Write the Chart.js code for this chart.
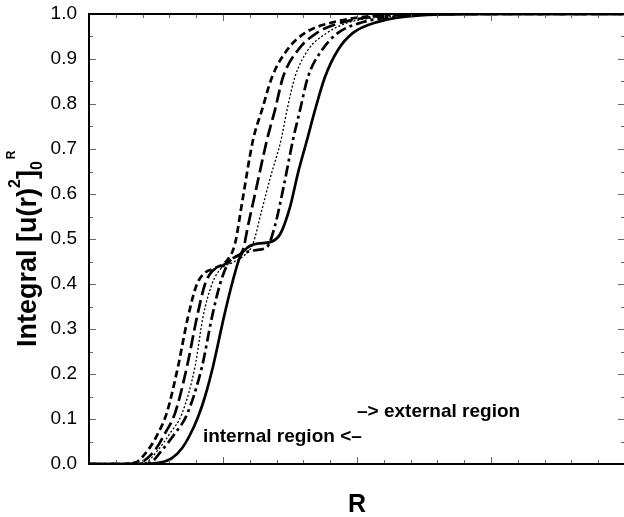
<!DOCTYPE html>
<html>
<head>
<meta charset="utf-8">
<script src="https://cdn.jsdelivr.net/npm/chart.js@4"></script>
<style>
  html, body { margin: 0; padding: 0; overflow: hidden; background: #fff; }
  #wrap { position: relative; width: 627px; height: 517px; }
</style>
</head>
<body>
<div id="wrap"><canvas id="chart"></canvas></div>
<script>
/* ── Data (R on x, cumulative integral on y) ── */
const shortDashR = [0, 0.231, 0.343, 0.440, 0.515, 0.582, 0.664, 0.739, 0.806, 0.866, 0.940, 1.037, 1.090, 1.142, 1.224, 1.291, 1.366, 1.478, 1.612, 1.799, 2.097, 2.545, 4];
const shortDashY = [0, 0, 0.003, 0.031, 0.068, 0.115, 0.216, 0.327, 0.40, 0.425, 0.435, 0.455, 0.49, 0.58, 0.72, 0.787, 0.86, 0.92, 0.958, 0.98, 0.995, 1.0, 1.0];

const longDashR = [0, 0.269, 0.381, 0.493, 0.567, 0.642, 0.731, 0.806, 0.866, 0.918, 0.993, 1.090, 1.149, 1.187, 1.239, 1.328, 1.388, 1.448, 1.560, 1.701, 1.873, 2.172, 2.694, 4];
const longDashY = [0, 0, 0.003, 0.031, 0.068, 0.113, 0.216, 0.327, 0.40, 0.428, 0.44, 0.46, 0.476, 0.53, 0.60, 0.72, 0.787, 0.86, 0.92, 0.958, 0.98, 0.995, 1.0, 1.0];

const dottedR = [0, 0.306, 0.418, 0.515, 0.604, 0.694, 0.791, 0.851, 0.918, 0.978, 1.067, 1.164, 1.224, 1.291, 1.351, 1.433, 1.478, 1.537, 1.634, 1.776, 1.925, 2.246, 2.769, 4];
const dottedY = [0, 0, 0.003, 0.031, 0.068, 0.112, 0.216, 0.327, 0.40, 0.432, 0.447, 0.465, 0.49, 0.566, 0.634, 0.72, 0.787, 0.86, 0.92, 0.958, 0.98, 0.995, 1.0, 1.0];

const dashDotR = [0, 0.343, 0.455, 0.545, 0.642, 0.731, 0.843, 0.918, 0.978, 1.037, 1.127, 1.239, 1.328, 1.388, 1.455, 1.522, 1.575, 1.634, 1.739, 1.858, 2.022, 2.321, 2.843, 4];
const dashDotY = [0, 0, 0.003, 0.031, 0.068, 0.11, 0.216, 0.327, 0.40, 0.445, 0.465, 0.475, 0.482, 0.53, 0.62, 0.72, 0.787, 0.86, 0.92, 0.958, 0.98, 0.995, 1.0, 1.0];

const solidR = [0, 0.381, 0.530, 0.619, 0.694, 0.754, 0.813, 0.866, 0.925, 1.007, 1.067, 1.127, 1.187, 1.261, 1.351, 1.425, 1.500, 1.560, 1.627, 1.687, 1.761, 1.858, 1.970, 2.149, 2.470, 3.067, 4];
const solidY = [0, 0, 0.003, 0.013, 0.035, 0.065, 0.104, 0.15, 0.216, 0.327, 0.40, 0.46, 0.482, 0.49, 0.493, 0.51, 0.571, 0.647, 0.72, 0.787, 0.86, 0.92, 0.958, 0.982, 0.997, 1.0, 1.0];

/* axis ranges */
const rMin = 0, rMax = 4, rMinorStep = 0.2, rMajorStep = 1;
const yMin = 0, yMax = 1, yMinorStep = 0.05, yMajorStep = 0.1;

/* text notes, placed in data units */
const noteTexts = ['internal region <\u2013', '\u2013> external region'];
const noteR     = [0.85, 2.0];
const noteY     = [0.06, 0.1156];

const FONT = '"Liberation Sans", Arial, Helvetica, sans-serif';

function pts(xs, ys) { return xs.map((x, i) => ({ x, y: ys[i] })); }

/* ── Plugins ── */
const frameTicks = {
  id: 'frameTicks',
  afterDatasetsDraw(chart) {
    const { ctx, chartArea: a, scales: { x, y } } = chart;
    ctx.save();
    ctx.strokeStyle = '#666';
    ctx.lineWidth = 1;
    ctx.beginPath();
    for (let v = rMin; v <= rMax + 1e-9; v += rMinorStep) {
      const px = Math.round(x.getPixelForValue(v)) + 0.5;
      const major = Math.abs(v / rMajorStep - Math.round(v / rMajorStep)) < 1e-6;
      const len = major ? 7 : 4;
      ctx.moveTo(px, a.bottom); ctx.lineTo(px, a.bottom - len);
      ctx.moveTo(px, a.top);    ctx.lineTo(px, a.top + len);
    }
    for (let v = yMin; v <= yMax + 1e-9; v += yMinorStep) {
      const py = Math.round(y.getPixelForValue(v)) + 0.5;
      const major = Math.abs(v / yMajorStep - Math.round(v / yMajorStep)) < 1e-6;
      const len = major ? 7 : 4;
      ctx.moveTo(a.left, py);  ctx.lineTo(a.left + len, py);
      ctx.moveTo(a.right, py); ctx.lineTo(a.right - len, py);
    }
    ctx.stroke();

    ctx.strokeStyle = '#000';
    ctx.lineWidth = 2;
    ctx.strokeRect(a.left, a.top, a.width, a.height);

    // notes
    ctx.fillStyle = '#000';
    ctx.font = 'bold 19px ' + FONT;
    ctx.textBaseline = 'middle';
    ctx.textAlign = 'left';
    noteTexts.forEach((t, i) => {
      ctx.fillText(t, x.getPixelForValue(noteR[i]), y.getPixelForValue(noteY[i]));
    });
    ctx.restore();
  },
};

const yTitle = {
  id: 'yTitle',
  afterDraw(chart) {
    const { ctx } = chart;
    ctx.save();
    ctx.translate(36, 347);
    ctx.rotate(-Math.PI / 2);
    ctx.fillStyle = '#000';
    ctx.textBaseline = 'alphabetic';
    ctx.textAlign = 'left';
    let cx = 0;
    const part = (txt, size, dy) => {
      ctx.font = 'bold ' + size + 'px ' + FONT;
      ctx.fillText(txt, cx, dy);
      cx += ctx.measureText(txt).width;
    };
    part('Integral [u(r)', 27, 0);
    part('2', 16, -16);
    part(']', 27, 0);
    part('0', 16, 6);
    cx += 2;
    part('R', 12, -21);
    ctx.restore();
  },
};

/* ── Chart ── */
new Chart(document.getElementById('chart'), {
  type: 'line',
  data: {
    datasets: [
      { data: pts(shortDashR, shortDashY), borderDash: [7, 4],        borderWidth: 2.7 },
      { data: pts(longDashR,  longDashY),  borderDash: [13, 5],       borderWidth: 2.7 },
      { data: pts(dottedR,    dottedY),    borderDash: [2, 2],        borderWidth: 1.3 },
      { data: pts(dashDotR,   dashDotY),   borderDash: [11, 4, 3, 4], borderWidth: 2.7 },
      { data: pts(solidR,     solidY),     borderDash: [],            borderWidth: 2.7 },
    ].map(d => ({
      ...d,
      borderColor: '#000',
      pointRadius: 0,
      fill: false,
      cubicInterpolationMode: 'monotone',
    })),
  },
  options: {
    responsive: true,
    maintainAspectRatio: false,
    animation: false,
    layout: { padding: { top: 14, right: 2, left: 0, bottom: 0 } },
    plugins: { legend: { display: false }, tooltip: { enabled: false } },
    scales: {
      x: {
        type: 'linear',
        min: rMin, max: rMax,
        grid: { display: false, drawTicks: false },
        border: { display: false },
        ticks: { display: false },
        title: {
          display: true, text: 'R', color: '#000',
          font: { family: FONT, size: 25, weight: 'bold', lineHeight: 1 },
          padding: { top: 0, bottom: -1 },
        },
        afterFit: s => { s.height = 53; s.paddingLeft = 0; s.paddingRight = 0; },
      },
      y: {
        min: yMin, max: yMax,
        grid: { display: false, drawTicks: false },
        border: { display: false },
        ticks: {
          stepSize: yMajorStep,
          padding: 12,
          color: '#000',
          font: { family: FONT, size: 19 },
          callback: v => v.toFixed(1),
        },
        afterFit: s => { s.width = 89; s.paddingTop = 0; s.paddingBottom = 0; },
      },
    },
  },
  plugins: [frameTicks, yTitle],
});
</script>
</body>
</html>
